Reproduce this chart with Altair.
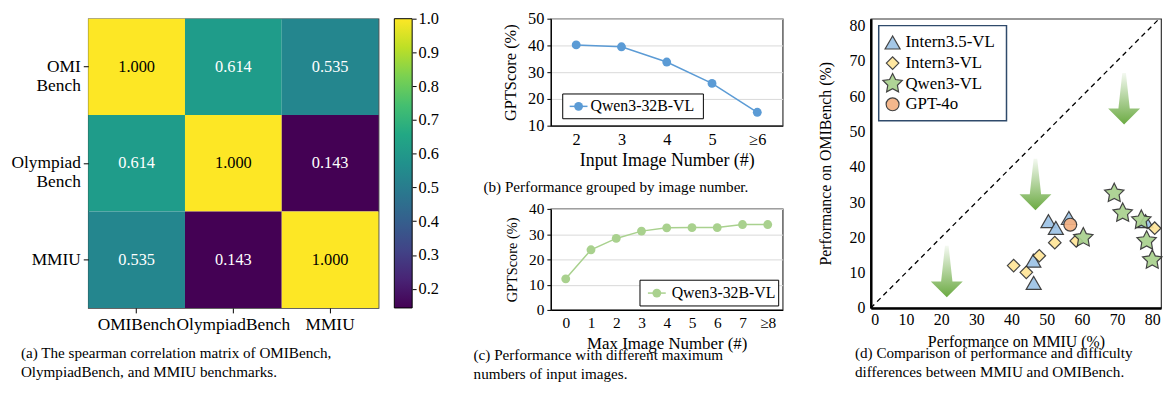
import altair as alt
import pandas as pd

FONT = "Liberation Serif"

# ---------------- data ----------------
bench = ["OMIBench", "OlympiadBench", "MMIU"]
corr_omi = [1.000, 0.614, 0.535]
corr_oly = [0.614, 1.000, 0.143]
corr_mmiu = [0.535, 0.143, 1.000]
cbar_range = [0.143, 1.0]
cbar_ticks = [0.2, 0.3, 0.4, 0.5, 0.6, 0.7, 0.8, 0.9, 1.0]

b_cats = ["2", "3", "4", "5", "≥6"]
b_vals = [40.2, 39.5, 33.8, 25.8, 15.0]

c_cats = ["0", "1", "2", "3", "4", "5", "6", "7", "≥8"]
c_vals = [12.3, 23.8, 28.3, 31.2, 32.5, 32.6, 32.6, 33.8, 33.8]

series_name = "Qwen3-32B-VL"

models = ["Intern3.5-VL", "Intern3-VL", "Qwen3-VL", "GPT-4o"]
intern35_mmiu = [50.5, 52.6, 56.3, 46.2, 46.3, 78.1]
intern35_omi = [24.6, 22.7, 25.5, 13.4, 7.1, 24.6]
intern3_mmiu = [40.6, 44.2, 47.9, 52.3, 58.4, 80.7]
intern3_omi = [12.0, 10.1, 14.8, 18.5, 19.0, 22.6]
qwen3_mmiu = [69.2, 71.6, 60.4, 76.9, 78.4, 80.0]
qwen3_omi = [32.5, 26.9, 19.9, 24.9, 19.0, 13.6]
gpt4o_mmiu = [56.7]
gpt4o_omi = [23.6]
arrow_x = [21.6, 46.8, 72.0]
arrow_y = [10.3, 35.0, 59.3]

captions = {
    "a": "(a) The spearman correlation matrix of OMIBench,\nOlympiadBench, and MMIU benchmarks.",
    "b": "(b) Performance grouped by image number.",
    "c": "(c)  Performance  with  different  maximum\nnumbers of input images.",
    "d": "(d) Comparison of performance and difficulty\ndifferences between MMIU and OMIBench.",
}

VIRIDIS = ["#440154", "#482475", "#414487", "#355F8D", "#2A788E", "#21918C",
           "#22A884", "#44BF70", "#7AD151", "#BDDF26", "#FDE725"]
STAR = ("M 0 -1 L 0.294 -0.405 L 0.951 -0.309 L 0.476 0.155 L 0.588 0.809 "
        "L 0 0.5 L -0.588 0.809 L -0.476 0.155 L -0.951 -0.309 L -0.294 -0.405 Z")
SHAPES = ["triangle-up", "diamond", STAR, "circle"]
FILLS = ["#9DC3E6", "#FFE699", "#A9D18E", "#F4B183"]
SIZES = [230, 160, 420, 170]


def caption_layer(text, x, y):
    return alt.Chart(pd.DataFrame({"t": [text]})).mark_text(
        align="left", baseline="top", lineBreak="\n", lineHeight=19,
        font=FONT, fontSize=15.3, color="black",
    ).encode(text="t:N", x=alt.value(x), y=alt.value(y))


# ---------------- (a) heatmap ----------------
matrix = [corr_omi, corr_oly, corr_mmiu]
df_a = pd.DataFrame([
    {"rowname": r, "colname": c, "v": matrix[i][j]}
    for i, r in enumerate(bench) for j, c in enumerate(bench)
])

ylab = ("datum.label == 'OMIBench' ? ['OMI', 'Bench'] : "
        "datum.label == 'OlympiadBench' ? ['Olympiad', 'Bench'] : datum.label")

base_a = alt.Chart(df_a).encode(
    x=alt.X("colname:N", sort=bench, title=None,
            axis=alt.Axis(labelAngle=0, labelFont=FONT, labelFontSize=17.5,
                          labelColor="black", tickColor="black", tickSize=5,
                          domain=False, labelPadding=3)),
    y=alt.Y("rowname:N", sort=bench, title=None,
            axis=alt.Axis(labelExpr=ylab, labelFont=FONT, labelFontSize=17.5,
                          labelLineHeight=19, labelColor="black", tickColor="black",
                          tickSize=5, domain=False, labelPadding=3)),
)
rect = base_a.mark_rect().encode(
    color=alt.Color("v:Q", scale=alt.Scale(scheme="viridis", domain=cbar_range),
                    legend=None))
txt = base_a.mark_text(font=FONT, fontSize=16.5).encode(
    text=alt.Text("v:Q", format=".3f"),
    color=alt.condition("datum.v > 0.9", alt.value("black"), alt.value("white")),
)
cbar = alt.Chart(pd.DataFrame({"lo": [cbar_range[0]], "hi": [cbar_range[1]]})).mark_rect(
    stroke="black", strokeWidth=1,
    fill=alt.Gradient(gradient="linear", x1=0, x2=0, y1=1, y2=0,
                      stops=[alt.GradientStop(offset=i / 10, color=c)
                             for i, c in enumerate(VIRIDIS)]),
).encode(
    x=alt.value(309), x2=alt.value(327),
    y=alt.Y("lo:Q", scale=alt.Scale(domain=cbar_range, nice=False, zero=False),
            axis=alt.Axis(orient="right", offset=34, values=cbar_ticks, format=".1f",
                          title=None, domain=False, grid=False, tickColor="black",
                          tickSize=4, labelPadding=2, labelFont=FONT,
                          labelFontSize=16.5, labelColor="black")),
    y2="hi:Q",
)
chart_a = alt.layer(alt.layer(rect, txt), cbar).resolve_scale(y="independent")
chart_a = alt.layer(chart_a, caption_layer(captions["a"], -68, 331)).properties(
    width=293, height=292)


# ---------------- (b) / (c) line charts ----------------
def line_panel(cats, vals, color, ydom, xtitle, pad, height, box, mark_x,
               text_x, leg_y, cap_key, cap_x, cap_y, tick_fs, title_fs, ytitle_fs):
    df = pd.DataFrame({"x": cats, "y": vals})
    x = alt.X("x:O", sort=cats, scale=alt.Scale(type="point", padding=pad),
              axis=alt.Axis(title=xtitle, labelAngle=0, labelFont=FONT,
                            labelFontSize=tick_fs, labelColor="black",
                            titleFont=FONT, titleFontSize=title_fs,
                            titleFontWeight="normal", titleColor="black",
                            ticks=False, domainColor="black", domainWidth=1.2,
                            labelPadding=6, titlePadding=4))
    y = alt.Y("y:Q", scale=alt.Scale(domain=ydom, nice=False),
              axis=alt.Axis(title="GPTScore (%)",
                            values=list(range(ydom[0], ydom[1] + 1, 10)),
                            labelFont=FONT, labelFontSize=tick_fs, labelColor="black",
                            titleFont=FONT, titleFontSize=ytitle_fs,
                            titleFontWeight="normal", titleColor="black",
                            grid=True, gridColor="#D9D9D9", gridWidth=1,
                            tickColor="black", tickSize=4, domainColor="black",
                            domainWidth=1.2, labelPadding=3, titlePadding=9))
    line = alt.Chart(df).mark_line(strokeWidth=1.5, color=color).encode(x=x, y=y)
    pts = alt.Chart(df).mark_point(filled=True, size=80, opacity=1,
                                   color=color).encode(x=x, y=y)
    ldf = pd.DataFrame({"name": [series_name]})
    lbox = alt.Chart(ldf).mark_rect(fill="white", stroke="black", strokeWidth=1).encode(
        x=alt.value(box[0]), x2=alt.value(box[1]),
        y=alt.value(box[2]), y2=alt.value(box[3]))
    lline = alt.Chart(ldf).mark_rule(color=color, strokeWidth=1.5).encode(
        x=alt.value(mark_x - 9), x2=alt.value(mark_x + 9), y=alt.value(leg_y))
    lpt = alt.Chart(ldf).mark_point(filled=True, size=80, opacity=1,
                                    color=color).encode(
        x=alt.value(mark_x), y=alt.value(leg_y))
    ltxt = alt.Chart(ldf).mark_text(align="left", baseline="middle", font=FONT,
                                    fontSize=16, color="black").encode(
        text="name:N", x=alt.value(text_x), y=alt.value(leg_y))
    return alt.layer(line, pts, lbox, lline, lpt, ltxt,
                     caption_layer(captions[cap_key], cap_x, cap_y)).properties(
        width=234, height=height)


chart_b = line_panel(b_cats, b_vals, "#5B9BD5", [10, 50], "Input Image Number (#)",
                     0.56, 108, (12, 154, 76, 101), 28, 40, 88.5,
                     "b", -68, 163, 16.5, 18, 16.5)
chart_c = line_panel(c_cats, c_vals, "#A9D18E", [0, 40], "Max Image Number (#)",
                     0.59, 102, (90, 230, 72, 98), 107, 122, 85,
                     "c", -78, 141, 15.5, 17, 14.5)

# ---------------- (d) scatter ----------------
groups = [("Intern3.5-VL", intern35_mmiu, intern35_omi),
          ("Intern3-VL", intern3_mmiu, intern3_omi),
          ("Qwen3-VL", qwen3_mmiu, qwen3_omi),
          ("GPT-4o", gpt4o_mmiu, gpt4o_omi)]
df_diag = pd.DataFrame({"mmiu": [0, 85], "omi": [0, 85]})
df_arrow = pd.DataFrame({"mmiu": arrow_x, "omi": arrow_y})

xd = alt.X("mmiu:Q", scale=alt.Scale(domain=[0, 82.5], nice=False),
           axis=alt.Axis(title="Performance on MMIU (%)", values=list(range(0, 81, 10)),
                         labelFont=FONT, labelFontSize=16, labelColor="black",
                         titleFont=FONT, titleFontSize=16, titleFontWeight="normal",
                         titleColor="black", grid=False, ticks=False,
                         domainColor="black", domainWidth=2.5, labelPadding=4,
                         titlePadding=6))
yd = alt.Y("omi:Q", scale=alt.Scale(domain=[0, 82], nice=False),
           axis=alt.Axis(title="Performance on OMIBench (%)", values=list(range(0, 81, 10)),
                         labelFont=FONT, labelFontSize=16, labelColor="black",
                         titleFont=FONT, titleFontSize=16, titleFontWeight="normal",
                         titleColor="black", grid=False, ticks=False,
                         domainColor="black", domainWidth=2.5, labelPadding=6,
                         titlePadding=16))

diag = alt.Chart(df_diag).mark_line(color="black", strokeDash=[5, 4], strokeWidth=1.3,
                                    clip=True).encode(x=xd, y=yd)
ARROW = "M -0.07 -1 L 0.07 -1 L 0.22 0.38 L 0.62 0.38 L 0 1 L -0.62 0.38 L -0.22 0.38 Z"
arrows = alt.Chart(df_arrow).mark_point(
    shape=ARROW, size=2704, filled=True, opacity=1, strokeWidth=0,
    fill=alt.Gradient(gradient="linear", x1=0, x2=0, y1=0, y2=1,
                      stops=[alt.GradientStop(offset=0, color="#F4F9F1"),
                             alt.GradientStop(offset=1, color="#6BAA42")]),
).encode(x=xd, y=yd)

pt_layers = []
for i, (name, xs, ys) in enumerate(groups):
    gdf = pd.DataFrame({"model": [name] * len(xs), "mmiu": xs, "omi": ys})
    pt_layers.append(alt.Chart(gdf).mark_point(
        filled=True, stroke="#333333", strokeWidth=1.2, opacity=0.92,
        shape=SHAPES[i], fill=FILLS[i], size=SIZES[i]).encode(x=xd, y=yd))

leg_layers = [alt.Chart(pd.DataFrame({"model": ["box"]})).mark_rect(
    fill="white", stroke="#2F4A6B", strokeWidth=1.5).encode(
    x=alt.value(8), x2=alt.value(137), y=alt.value(7), y2=alt.value(103))]
for i, m in enumerate(models):
    ly = 24 + 20.8 * i
    mdf = pd.DataFrame({"model": [m]})
    leg_layers.append(alt.Chart(mdf).mark_point(
        filled=True, stroke="#333333", strokeWidth=1.2, opacity=0.92,
        shape=SHAPES[i], fill=FILLS[i], size=SIZES[i]).encode(
        x=alt.value(22), y=alt.value(ly)))
    leg_layers.append(alt.Chart(mdf).mark_text(
        align="left", baseline="middle", font=FONT, fontSize=17, color="black").encode(
        text="model:N", x=alt.value(35), y=alt.value(ly)))

spacer = alt.Chart(pd.DataFrame({"model": ["pad"]})).mark_rule(
    strokeOpacity=0).encode(x=alt.value(0), y=alt.value(-8), y2=alt.value(0))

chart_d = alt.layer(diag, arrows, *pt_layers, *leg_layers, spacer,
                    caption_layer(captions["d"], -16, 331)).properties(
    width=293, height=292)

middle = alt.vconcat(chart_b, chart_c, spacing=5)

chart = alt.hconcat(chart_a, middle, chart_d, spacing=33).properties(
    padding={"left": 2, "top": 0, "right": 0, "bottom": 0}
).configure_view(stroke="#333333", strokeWidth=1.2)

chart.save("out.html", embed_options={"renderer": "svg", "actions": False})
